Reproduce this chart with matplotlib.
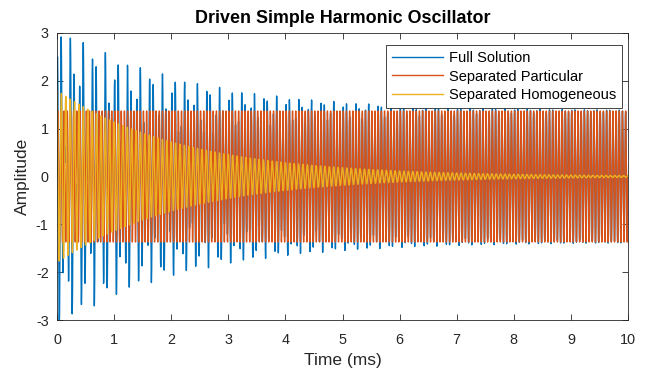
import numpy as np
import matplotlib
matplotlib.use("Agg")
import matplotlib.pyplot as plt

plt.rcParams['font.family'] = ['Liberation Sans', 'DejaVu Sans']
plt.rcParams['axes.unicode_minus'] = False

# Oscillator parameters (time in ms, frequency in kHz)
t_end = 10.0
n_samples = 20001
drive_amp = 1.37          # steady-state (particular) amplitude
drive_freq = 18.0         # driving frequency
natural_freq = 13.0       # damped natural frequency
homog_amp = 1.8           # initial transient amplitude
decay_time = 2.2          # transient e-folding time
homog_phase = 0.0

x_ticks = list(range(0, 11))
y_ticks = [-3, -2, -1, 0, 1, 2, 3]
series_labels = ["Full Solution", "Separated Particular", "Separated Homogeneous"]
series_colors = ["#0072BD", "#D95319", "#EDB120"]

t = np.linspace(0.0, t_end, n_samples)
particular = drive_amp * np.sin(2 * np.pi * drive_freq * t)
homogeneous = homog_amp * np.exp(-t / decay_time) * np.cos(2 * np.pi * natural_freq * t + homog_phase)
full = particular + homogeneous

fig = plt.figure(figsize=(6.47, 3.71), dpi=100)
ax = fig.add_axes([57 / 647, 1 - 320 / 371, 571 / 647, 287 / 371])

for y, lab, c in zip([full, particular, homogeneous], series_labels, series_colors):
    ax.plot(t, y, color=c, lw=1.0, label=lab)

ax.set_xlim(0, 10)
ax.set_ylim(-3, 3)
ax.set_xticks(x_ticks)
ax.set_yticks(y_ticks)
ax.tick_params(direction='in', length=4, width=0.6, colors='#262626', labelsize=10.4,
               top=True, right=True, labelcolor='#262626')
ax.tick_params(axis='x', pad=9)
ax.tick_params(axis='y', pad=6)
for s in ax.spines.values():
    s.set_color('#262626')
    s.set_linewidth(0.6)

ax.set_title("Driven Simple Harmonic Oscillator", fontsize=12.9, fontweight='bold', color='black', pad=7)
ax.set_xlabel("Time (ms)", fontsize=12.5, color='#262626', labelpad=5)
ax.set_ylabel("Amplitude", fontsize=12.5, color='#262626', labelpad=4)

leg = ax.legend(loc='upper right', bbox_to_anchor=(0.99, 0.958), fontsize=10.5,
                frameon=True, fancybox=False, edgecolor='#262626', framealpha=1,
                handlelength=3.5, handletextpad=0.45, borderpad=0.4, labelspacing=0.32,
                borderaxespad=0)
leg.get_frame().set_linewidth(0.6)
for line in leg.get_lines():
    line.set_linewidth(1.0)

fig.savefig("out.png", dpi=100)
